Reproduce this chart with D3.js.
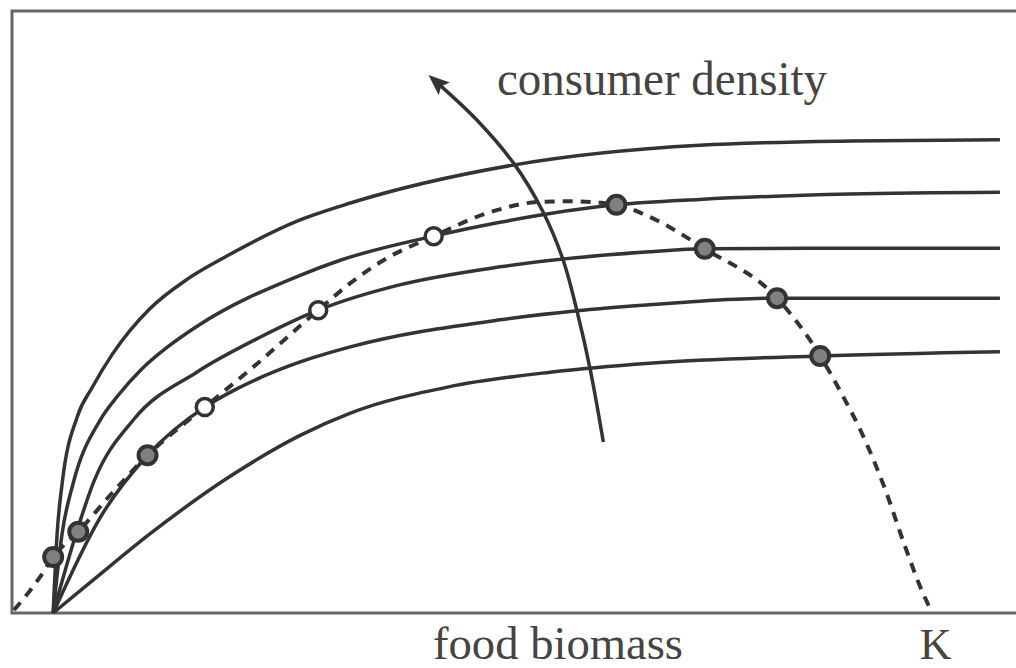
<!DOCTYPE html>
<html>
<head>
<meta charset="utf-8">
<script src="https://cdn.jsdelivr.net/npm/d3@7"></script>
<style>
  body { margin: 0; background: #fff; }
  text { font-family: "Liberation Serif", "DejaVu Serif", serif; fill: #444; }
</style>
</head>
<body>
<div id="chart"></div>
<script>
// curve data (food biomass, consumption), 0-100 units
var curve1 = [[4.1,0],[4.5,13.3],[5.0,21.6],[6.5,32.6],[8.0,37.5],[10.0,43.0],[13.7,50.5],[17.5,55.5],[21.4,59.3],[28.7,65.3],[33.7,68.1],[49.9,74.4],[68.5,77.7],[83.5,78.4],[98.4,78.6]];
var curve2 = [[4.1,0],[5.0,13.3],[6.1,21.6],[8.8,32.1],[10.5,36.0],[12.9,40.5],[15.5,44.2],[18.4,47.6],[28.7,56.1],[32.7,58.6],[42.0,62.6],[48.6,64.9],[60.2,67.8],[68.5,68.7],[83.5,69.6],[98.4,69.9]];
var curve3 = [[4.1,0],[6.5,13.8],[8.1,21.6],[12.1,32.1],[18.4,40.0],[24.7,45.8],[30.5,50.3],[38.6,54.5],[48.6,57.5],[63.5,60.0],[69.0,60.5],[83.5,60.6],[98.4,60.6]];
var curve4 = [[4.1,0],[8.8,15.9],[13.5,26.2],[19.2,34.2],[22.0,36.9],[28.7,41.7],[33.7,44.2],[48.6,48.7],[56.3,50.2],[63.5,51.2],[68.5,51.8],[76.2,52.3],[98.4,52.3]];
var curve5 = [[4.1,0],[8.1,5.5],[13.7,13.1],[22.0,23.0],[28.7,29.5],[33.7,33.2],[43.6,37.6],[53.6,40.0],[63.5,41.5],[80.5,42.7],[98.4,43.4]];
var curves = [curve1, curve2, curve3, curve4, curve5];

// dashed hump-shaped curve ending at K
var hump = [[0.2,0.5],[1.6,3.3],[2.8,6.0],[4.1,9.3],[6.6,13.5],[9.8,19.6],[13.5,26.2],[19.2,34.2],[23.7,40.4],[30.5,50.3],[33.7,54.8],[37.0,58.6],[42.0,62.6],[47.3,66.4],[52.6,68.3],[55.6,68.4],[60.2,67.8],[63.5,65.8],[69.0,60.5],[76.2,52.3],[80.5,42.7],[82.8,35.9],[84.5,30.4],[87.0,20.4],[88.9,11.3],[90.6,3.8],[91.6,0.2]];

// equilibrium points: open and filled
var openPts = [[19.2,34.2],[30.5,50.3],[42.0,62.6]];
var filledPts = [[4.1,9.3],[6.6,13.5],[13.5,26.2],[60.2,67.8],[69.0,60.5],[76.2,52.3],[80.5,42.7]];

// arrow for increasing consumer density
var arrowPts = [[58.9,28.4],[57.6,40.4],[56.3,50.0],[54.9,58.6],[52.9,66.6],[50.1,74.4],[46.3,81.9],[41.8,88.9]];

var labels = {top: "consumer density", bottom: "food biomass", k: "K"};

var svgWidth = 1016;
var svgHeight = 668;

var svg = d3.select("#chart")
  .append("svg")
  .attr("width", svgWidth)
  .attr("height", svgHeight);

var x = d3.scaleLinear().domain([0, 100]).range([12, 1016]);
var y = d3.scaleLinear().domain([0, 100]).range([613, 11]);

// frame (left, top, bottom)
svg.append("path")
  .attr("d", "M" + x(100) + "," + y(100) + "H" + x(0) + "V" + y(0) + "H" + x(100))
  .attr("fill", "none")
  .attr("stroke", "#666")
  .attr("stroke-width", 3);

var line = d3.line()
  .x(function(d) { return x(d[0]); })
  .y(function(d) { return y(d[1]); })
  .curve(d3.curveMonotoneX);

// solid curves
svg.selectAll(".curve")
  .data(curves)
  .enter()
  .append("path")
  .attr("class", "curve")
  .attr("d", line)
  .attr("fill", "none")
  .attr("stroke", "#333")
  .attr("stroke-width", 3.5);

// dashed curve
svg.append("path")
  .attr("d", line(hump))
  .attr("fill", "none")
  .attr("stroke", "#333")
  .attr("stroke-width", 4)
  .attr("stroke-dasharray", "10,8");

// arrow
svg.append("defs").append("marker")
  .attr("id", "head")
  .attr("viewBox", "0 0 10 10")
  .attr("refX", 8)
  .attr("refY", 5)
  .attr("markerWidth", 6)
  .attr("markerHeight", 6)
  .attr("markerUnits", "strokeWidth")
  .attr("orient", "auto")
  .append("path")
  .attr("d", "M0,1 L10,5 L0,9 L2,5 Z")
  .attr("fill", "#333");

var arrowLine = d3.line()
  .x(function(d) { return x(d[0]); })
  .y(function(d) { return y(d[1]); })
  .curve(d3.curveCatmullRom);

svg.append("path")
  .attr("d", arrowLine(arrowPts))
  .attr("fill", "none")
  .attr("stroke", "#333")
  .attr("stroke-width", 3.5)
  .attr("marker-end", "url(#head)");

// points
svg.selectAll(".open")
  .data(openPts)
  .enter()
  .append("circle")
  .attr("cx", function(d) { return x(d[0]); })
  .attr("cy", function(d) { return y(d[1]); })
  .attr("r", 8.5)
  .attr("fill", "#fff")
  .attr("stroke", "#333")
  .attr("stroke-width", 3.5);

svg.selectAll(".filled")
  .data(filledPts)
  .enter()
  .append("circle")
  .attr("cx", function(d) { return x(d[0]); })
  .attr("cy", function(d) { return y(d[1]); })
  .attr("r", 9)
  .attr("fill", "#808080")
  .attr("stroke", "#333")
  .attr("stroke-width", 4);

// labels
svg.append("text")
  .attr("x", 497)
  .attr("y", 95)
  .attr("font-size", 48)
  .attr("textLength", 330)
  .attr("lengthAdjust", "spacingAndGlyphs")
  .text(labels.top);

svg.append("text")
  .attr("x", 433)
  .attr("y", 659)
  .attr("font-size", 46)
  .attr("textLength", 250)
  .attr("lengthAdjust", "spacingAndGlyphs")
  .text(labels.bottom);

svg.append("text")
  .attr("x", x(91.6))
  .attr("dx", 4)
  .attr("y", 659)
  .attr("text-anchor", "middle")
  .attr("font-size", 44)
  .text(labels.k);
</script>
</body>
</html>
